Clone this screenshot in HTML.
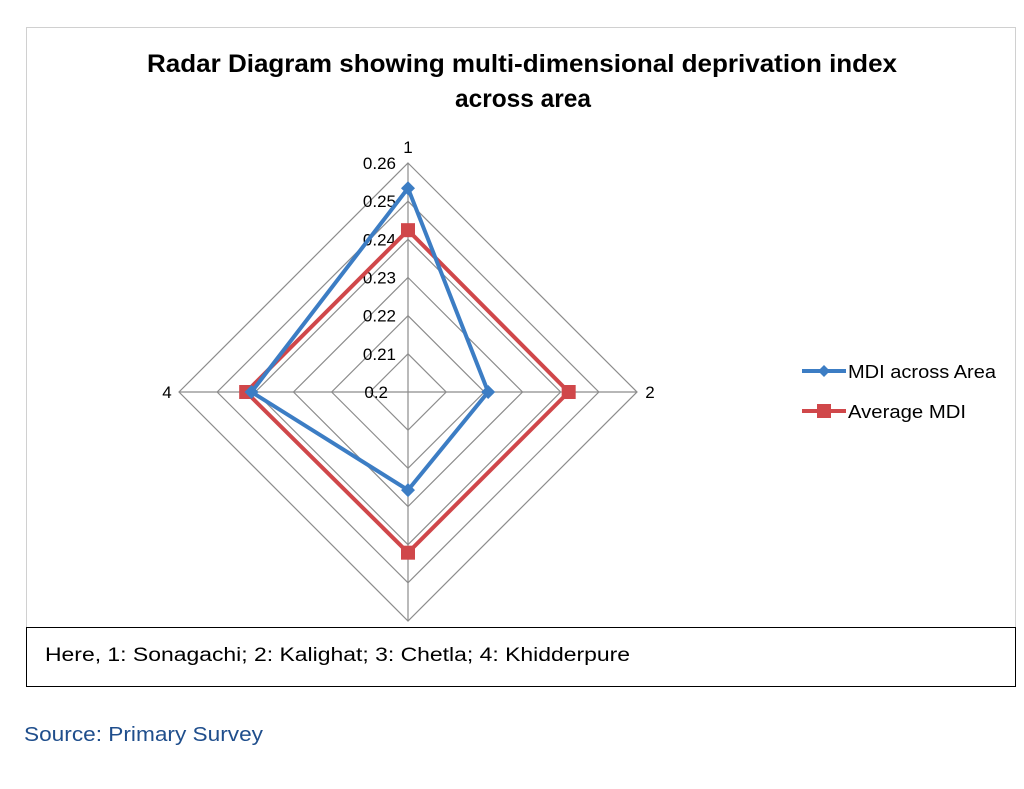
<!DOCTYPE html>
<html><head><meta charset="utf-8"><style>
body{margin:0;background:#fff;width:1024px;height:789px;overflow:hidden;font-family:"Liberation Sans",sans-serif}
svg{position:absolute;left:0;top:0}
</style></head><body>
<svg width="1024" height="789">
<rect x="26.5" y="27.5" width="989" height="600" fill="#fff" stroke="#d0d0d0"/>
<text x="147" y="72" font-size="25" font-weight="bold" textLength="750" lengthAdjust="spacingAndGlyphs">Radar Diagram showing multi-dimensional deprivation index</text>
<text x="455" y="107" font-size="25" font-weight="bold" textLength="136" lengthAdjust="spacingAndGlyphs">across area</text>
<g id="grid"></g><g id="series"></g>
<g>
<line x1="802" y1="371" x2="846" y2="371" stroke="#3c7dc4" stroke-width="4"/>
<polygon points="824,365 830,371 824,377 818,371" fill="#3c7dc4"/>
<text x="848" y="378" font-size="18" textLength="148" lengthAdjust="spacingAndGlyphs">MDI across Area</text>
<line x1="802" y1="411" x2="846" y2="411" stroke="#d0474a" stroke-width="4"/>
<rect x="817" y="404" width="14" height="14" fill="#d0474a"/>
<text x="848" y="418" font-size="18" textLength="118" lengthAdjust="spacingAndGlyphs">Average MDI</text>
</g>
<rect x="26.5" y="627.5" width="989" height="59" fill="#fff" stroke="#000"/>
<text x="45" y="661" font-size="19" textLength="585" lengthAdjust="spacingAndGlyphs" fill="#000">Here, 1: Sonagachi; 2: Kalighat; 3: Chetla; 4: Khidderpure</text>
<text x="24" y="741" font-size="20" textLength="239" lengthAdjust="spacingAndGlyphs" fill="#1f4e8c">Source: Primary Survey</text>
</svg>
<script>
const axisLabels=["1","2","3","4"];
const ticks=[0.2,0.21,0.22,0.23,0.24,0.25,0.26];
const mdiArea=[0.2534,0.221,0.2257,0.241];
const avgMdi=[0.2424,0.2421,0.2421,0.2424];
const cx=408,cy=392,R=229,vmin=0.2,vmax=0.26;
const NS="http://www.w3.org/2000/svg";
function r(v){return (v-vmin)/(vmax-vmin)*R;}
function pt(i,v){const a=-Math.PI/2+i*Math.PI/2;return [cx+r(v)*Math.cos(a),cy+r(v)*Math.sin(a)];}
function mk(tag,attrs,parent){const e=document.createElementNS(NS,tag);for(const k in attrs)e.setAttribute(k,attrs[k]);parent.appendChild(e);return e;}
const g=document.getElementById('grid');
ticks.slice(1).forEach((t,k)=>{const p=axisLabels.map((_,i)=>pt(i,t).join(',')).join(' ');
const e=mk('polygon',{points:p,fill:'none',stroke:'#8c8c8c','stroke-width':1.2},g);

});
const lblOff=[0,-3,0,4];
axisLabels.forEach((l,i)=>{const p=pt(i,vmax);
const e=mk('line',{x1:cx,y1:cy,x2:p[0],y2:p[1],stroke:'#8c8c8c','stroke-width':1.2},g);


const q=pt(i,vmax+0.0042);
const t=mk('text',{x:q[0]+lblOff[i],y:q[1]+6,'font-size':17,'text-anchor':'middle'},g);t.textContent=l;

});
ticks.forEach(t=>{const p=pt(0,t);
const e=mk('text',{x:p[0]-12,y:p[1]+6,'font-size':17,'text-anchor':'end'},g);e.textContent=t.toFixed(t===0.2?1:2);
if(t===0.2)e.setAttribute('x',p[0]-20);

});
const s=document.getElementById('series');
function draw(vals,color,shape,name){const pts=vals.map((v,i)=>pt(i,v));
const e=mk('polygon',{points:pts.map(p=>p.join(',')).join(' '),fill:'none',stroke:color,'stroke-width':4,'stroke-linejoin':'round'},s);


pts.forEach(p=>{let m;
if(shape==='d')m=mk('polygon',{points:`${p[0]},${p[1]-7} ${p[0]+7},${p[1]} ${p[0]},${p[1]+7} ${p[0]-7},${p[1]}`,fill:color},s);
else m=mk('rect',{x:p[0]-7,y:p[1]-7,width:14,height:14,fill:color},s);

});}
draw(avgMdi,'#d0474a','s','average-mdi');
draw(mdiArea,'#3c7dc4','d','mdi-across-area');
</script>
</body></html>
